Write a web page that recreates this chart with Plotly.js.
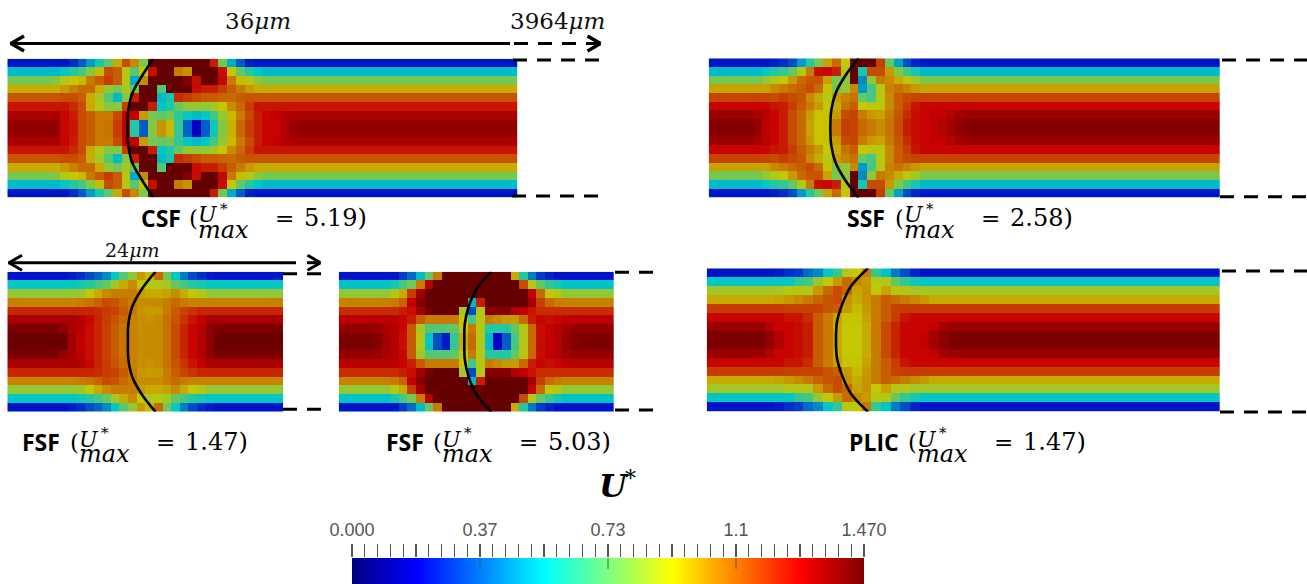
<!DOCTYPE html>
<html><head><meta charset="utf-8">
<script src="https://cdn.plot.ly/plotly-3.0.1.min.js"></script>
<style>html,body{margin:0;padding:0;background:#fff}#c{width:1307px;height:584px}
#c .heatmaplayer image{filter:blur(0.7px)}</style></head>
<body><div id="c"></div>
<script>
// Cell values: percent of the colour range, top half of the channel (rows 0-7); the channel is mirror symmetric.
// Each row ends at its fully developed value, which holds to the channel end.
const csfRows = [
[15,15,15,15,15,15,15,18,24,32,40,50,66,78,70,54,100,100,100,100,100,100,100,84,52,34,24,16,15],
[36,36,36,36,36,36,38,42,46,54,64,78,76,60,48,62,86,100,100,72,69,100,100,100,86,62,50,42,38,36],
[52,52,52,52,52,54,60,62,64,72,76,80,76,60,34,70,100,100,100,100,96,86,100,100,87,72,64,60,55,52],
[66,66,66,66,66,66,68,71,74,74,66,56,52,58,50,100,100,48,100,100,100,86,84,84,80,76,72,68,66],
[77,77,77,77,77,77,78,78,76,66,58,48,36,54,84,100,100,36,40,82,80,78,76,76,75,74,76,77],
[85,85,85,85,85,85,85,82,78,66,60,54,54,80,100,100,84,38,42,50,56,56,56,58,62,70,74,80,85],
[91,91,91,91,91,91,87,84,78,76,72,72,78,88,88,68,52,50,52,44,38,36,38,46,56,64,72,78,84,87,88,90,91],
[94,94,94,94,94,94,87,85,78,76,72,73,80,88,42,24,54,69,64,44,25,12,24,40,54,65,74,80,84,87,87,90,93,94]];
const ssfRows = [
[15,15,15,15,15,15,15,16,18,22,32,42,52,67,74,62,100,100,100,80,50,33,22,17,15],
[36,36,36,36,36,36,38,42,44,50,60,72,86,87,84,60,100,40,78,78,68,54,46,40,36],
[52,52,52,52,52,52,56,60,62,68,74,77,77,67,52,55,100,30,56,72,70,66,61,58,53],
[67,67,67,67,67,67,67,70,72,74,76,78,74,63,52,56,70,32,46,60,71,73,71,68,67],
[79,79,79,79,79,79,79,78,80,78,77,70,66,60,68,71,73,50,46,60,70,76,78,79],
[87,87,87,87,87,87,87,85,84,80,76,72,68,62,66,73,76,62,61,61,70,76,80,85,87],
[93,93,93,93,93,91,89,87,84,78,74,68,63,63,68,78,79,72,68,67,72,77,82,86,87,88,88,90,92,93],
[96,96,96,96,96,94,89,87,84,78,74,67,63,63,72,80,79,74,72,70,73,78,84,86,87,88,90,92,94,96]];
const fsfLowRows = [
[15,15,15,15,15,15,15,16,18,22,25,30,38,48,56,68,64,74,52,38,28,22,18,16,15],
[38,38,38,38,38,38,38,38,40,42,46,50,58,66,70,62,60,60,58,50,46,42,40,38],
[56,56,56,56,56,56,56,56,57,62,66,70,72,72,72,68,66,66,67,70,66,62,60,56],
[71,71,71,71,71,71,71,71,72,73,75,78,77,74,72,70,70,70,72,74,72,71],
[83,83,83,83,83,83,83,83,83,83,82,80,79,76,72,69,68,68,72,76,79,81,83],
[91,91,91,91,91,91,91,91,90,87,83,80,77,74,71,70,69,70,73,77,81,85,88,91],
[97,97,97,97,97,97,94,91,89,86,83,79,76,73,71,70,70,70,73,78,83,87,90,95,97],
[99,99,99,99,99,99,99,92,88,86,83,79,76,73,71,70,70,70,73,78,83,87,90,95,99]];
const fsfHighRows = [
[15,15,15,15,15,15,15,20,26,36,50,72,100,100,100,100,100,100,100,100,66,42,28,20,17,15],
[37,37,37,37,37,37,40,46,52,72,90,100,100,100,100,100,100,100,100,100,100,78,60,50,44,40,37],
[56,56,56,56,56,56,60,66,80,92,100,100,100,100,100,100,100,100,100,100,100,100,88,74,62,60,56],
[71,71,71,71,71,71,72,75,88,96,100,100,100,100,100,36,84,100,100,100,100,100,92,80,74,72,71],
[82,82,82,82,82,82,82,84,86,92,98,100,100,100,58,22,60,96,96,96,90,88,85,82],
[89,89,89,89,89,89,89,87,84,76,72,72,72,72,62,46,60,72,70,68,68,74,84,87,86,87,89],
[94,94,94,94,93,91,90,87,76,58,48,48,48,50,62,72,60,42,42,42,50,60,74,86,88,90,92,94],
[97,97,97,97,96,92,90,86,76,60,38,22,16,44,66,74,60,36,12,24,46,60,74,86,88,90,94,96,97]];
const plicRows = [
[15,15,15,15,15,15,15,16,18,20,26,30,38,44,60,62,72,44,37,28,22,17,15],
[38,38,38,38,38,38,38,38,38,44,46,56,62,68,74,70,68,60,60,50,44,40,38],
[58,58,58,58,58,58,58,58,60,60,60,68,74,78,74,67,69,62,67,60,60,58],
[66,66,66,66,66,66,66,67,68,70,72,75,77,78,69,66,69,72,76,74,72,70,68,66],
[80,80,80,80,80,80,80,80,79,79,79,79,77,76,68,64,68,72,76,79,80],
[87,87,87,87,87,87,87,87,85,85,82,76,72,67,63,63,67,72,76,80,85,87],
[93,93,93,93,93,93,90,87,87,86,84,76,72,66,62,62,66,72,78,83,87,87,87,88,92,93],
[97,97,97,97,97,97,94,90,87,86,84,76,72,66,62,62,66,72,78,83,87,87,88,92,95,97]];

// Interface curve: column position at rows 0, 2, 4, 6, 8 of each panel
const curveRows = [0,2,4,6,8,10,12,14,16];
const csfCurve = [16.6,15.3,14.2,13.75,13.65];
const ssfCurve = [17.0,15.5,14.4,13.9,13.8];
const fsfLowCurve = [17.2,15.6,14.5,14.05,14.0];
const fsfHighCurve = [17.75,16.0,15.1,14.65,14.6];
const plicCurve = [16.65,14.9,14.0,13.45,13.35];

const legendTicks = [0,0.3675,0.735,1.1025,1.47];
const legendLabels = ['0.000','0.37','0.73','1.1','1.470'];

const W = 1307, H = 584;
const px = x => x / W, py = y => 1 - y / H;

const jetStops = [[0,[0,0,128]],[0.125,[0,0,255]],[0.375,[0,255,255]],[0.5,[127,255,127]],[0.625,[255,255,0]],[0.875,[255,0,0]],[1,[128,0,0]]];
const scale = f => jetStops.map(([t,c]) => [t,`rgb(${c.map(v=>Math.round(v*f)).join(',')})`]);

const panels = [
 {rows:csfRows, curve:csfCurve, n:58, box:[7.3,517.7,58.7,197.3]},
 {rows:ssfRows, curve:ssfCurve, n:58, box:[708.7,1220,58.3,197.7]},
 {rows:fsfLowRows, curve:fsfLowCurve, n:32, box:[7.3,283,271.7,411.7]},
 {rows:fsfHighRows, curve:fsfHighCurve, n:32, box:[338.7,614,271.7,411.7]},
 {rows:plicRows, curve:plicCurve, n:53, box:[706.7,1220,268.3,411.7]}
];

const data = [], layout = {
  width:W, height:H, margin:{l:0,r:0,t:0,b:0}, paper_bgcolor:'#fff', plot_bgcolor:'#fff',
  showlegend:false, shapes:[], annotations:[]
};
const hidden = {visible:false, showgrid:false, zeroline:false, fixedrange:true};

panels.forEach((p,i) => {
  const id = i+1, xn = id===1?'x':'x'+id, yn = id===1?'y':'y'+id;
  const top = p.rows.map(r => { const o = r.slice(); while(o.length<p.n) o.push(r[r.length-1]); return o; });
  const z = top.concat(top.slice().reverse());
  data.push({type:'heatmap', z, x0:0.5, dx:1, y0:0.5, dy:1, xaxis:xn, yaxis:yn, zmin:0, zmax:100,
             colorscale:scale(0.78), showscale:false, hoverinfo:'skip'});
  const cx = p.curve.concat(p.curve.slice(0,-1).reverse());
  data.push({type:'scatter', mode:'lines', x:cx, y:curveRows, xaxis:xn, yaxis:yn,
             line:{color:'#000', width:2.6, shape:'spline'}, hoverinfo:'skip'});
  layout['xaxis'+(id===1?'':id)] = {...hidden, domain:[px(p.box[0]),px(p.box[1])], range:[0,p.n], anchor:yn};
  layout['yaxis'+(id===1?'':id)] = {...hidden, domain:[py(p.box[3]),py(p.box[2])], range:[16,0], anchor:xn};
});

// Colour legend
data.push({type:'heatmap', x:[0,1.47], y:[0,1], z:[[0,1.47],[0,1.47]], zmin:0, zmax:1.47, zsmooth:'best',
           colorscale:scale(1), showscale:false, xaxis:'x6', yaxis:'y6', hoverinfo:'skip'});
const innerX = [], innerY = [];
legendTicks.slice(1,-1).forEach(v => { innerX.push(v,v,null); innerY.push(1,0.58,null); });
data.push({type:'scatter', mode:'lines', x:innerX, y:innerY, xaxis:'x6', yaxis:'y6',
           line:{color:'#555', width:1}, hoverinfo:'skip'});
layout.xaxis6 = {domain:[px(352),px(864)], range:[0,1.47], anchor:'y6', side:'top', showgrid:false, zeroline:false,
  fixedrange:true, showline:false, tickmode:'array', tickvals:legendTicks, ticktext:legendLabels, ticks:'outside', ticklen:13,
  tickcolor:'#555', tickwidth:1.2, ticklabelstandoff:1, tickfont:{family:'Liberation Sans, sans-serif', size:18, color:'#555'},
  minor:{tick0:0, dtick:0.03675, ticks:'outside', ticklen:13, tickcolor:'#555', tickwidth:1.2, showgrid:false}};
layout.yaxis6 = {...hidden, domain:[0,py(558)], range:[0,1], anchor:'x6'};

// Dimension lines
function seg(x0,y0,x1,y1,w,dash){ layout.shapes.push({type:'line',xref:'paper',yref:'paper',x0:px(x0),x1:px(x1),y0:py(y0),y1:py(y1),
  line:{color:'#000',width:w,dash:dash||'solid'}}); }
function chevron(tip,y,dir,h,len,w){ seg(tip+dir*len,y-h,tip,y,w); seg(tip,y,tip+dir*len,y+h,w); }
const dd = '14px,10px';
seg(10,43.5,510,43.5,3); chevron(11,43.5,1,7.5,13,3.5);
seg(514,43.5,598,43.5,3,dd); chevron(600.5,43.5,-1,7.5,13,3.5);
seg(513,60,601,60,3,dd); seg(512,196,600,196,3,dd);
seg(1222,60,1307,60,3,dd); seg(1220,196.7,1307,196.7,3,dd);
seg(8,262.7,296,262.7,3); chevron(9,262.7,1,7.5,13,3);
seg(307,262.7,320,262.7,3); chevron(320.5,262.7,-1,7.5,13,3);
seg(283,273.7,321,273.7,3,dd); seg(283,409.3,321,409.3,3,dd);
seg(615,272.3,653,272.3,3,dd); seg(615,410,653,410,3,dd);
seg(1222,271,1307,271,3,dd); seg(1220,412,1307,412,3,dd);

// Text
const serif = 'DejaVu Serif, serif', sans = 'Open Sans, sans-serif';
function txt(x,y,text,size,family,color,anchor){ layout.annotations.push({xref:'paper',yref:'paper',x:px(x),y:py(y),text,showarrow:false,
  xanchor:anchor||'left',yanchor:'middle',borderpad:0,font:{family,size,color:color||'#000'}}); }
function label(name,nx,mx,y,val){
  txt(nx,y,'<b>'+name+'</b>',23,sans);
  txt(mx,y,'(',23,serif);
  txt(mx+9,y-3,'<i>U</i>',22,serif);
  txt(mx+31,y-9,'*',15,serif);
  txt(mx+9,y+12,'<i>max</i>',24,serif);
  txt(mx+86,y,'=',23,serif);
  txt(mx+115,y,val+')',24,serif);
}
label('CSF',140,187.7,218,'5.19');
label('SSF',846,894,218,'2.58');
label('FSF',21,68.7,442,'1.47');
label('FSF',384.5,432,442,'5.03');
label('PLIC',848,907,442,'1.47');
txt(258,21,'36<i>μm</i>',23,serif,'#111','center');
txt(557,21,'3964<i>μm</i>',23,serif,'#111','center');
txt(132,250,'24<i>μm</i>',19,serif,'#111','center');
txt(598,486,'<b><i>U</i></b>',32,serif);
txt(624,478,'*',22,serif);

Plotly.newPlot('c',data,layout,{staticPlot:true,displayModeBar:false});
</script></body></html>
